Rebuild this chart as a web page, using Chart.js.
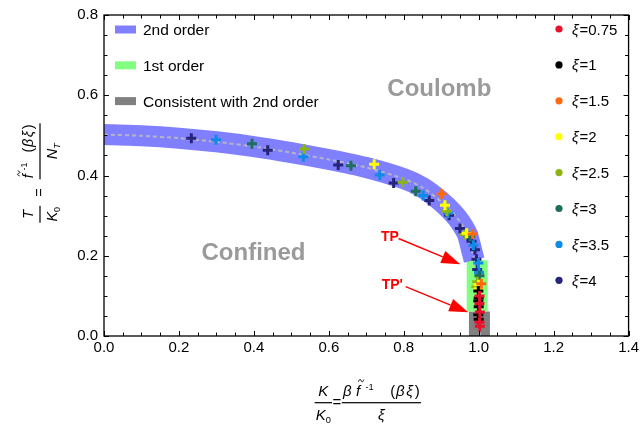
<!DOCTYPE html>
<html>
<head>
<meta charset="utf-8">
<script src="https://cdn.jsdelivr.net/npm/chart.js@4.4.1/dist/chart.umd.min.js"></script>
<style>
  html, body { margin: 0; padding: 0; background: #fff; }
</style>
</head>
<body>
<canvas id="c" width="642" height="438"></canvas>
<script>
/* axis ticks */
const xTicks = [0, 0.2, 0.4, 0.6, 0.8, 1.0, 1.2, 1.4];
const yTicks = [0, 0.2, 0.4, 0.6, 0.8];

/* fitted curve (dashed) K/K0 vs T/K0 */
const curveK = [0, 0.1, 0.2, 0.3, 0.4, 0.5, 0.6, 0.7, 0.8, 0.85, 0.9, 0.93, 0.95, 0.97, 0.98, 0.988, 0.994, 1.0, 1.002, 1.003, 1.003];
const curveT = [0.502, 0.499, 0.493, 0.484, 0.472, 0.457, 0.440, 0.420, 0.392, 0.370, 0.335, 0.308, 0.285, 0.253, 0.218, 0.189, 0.162, 0.120, 0.081, 0.023, 0.0];

/* transition regions */
const tpT = 0.189;       // TP : 2nd -> 1st order
const tpPrimeT = 0.061;  // TP': 1st order -> consistent with 2nd
const firstOrderK = 0.996;
const consistentK = 1.002;

/* legend */
const bandLabels = ['2nd order', '1st order', 'Consistent with 2nd order'];
const bandColors = ['#8080ff', '#80ff80', '#808080'];
const xiLabels = ['0.75', '1', '1.5', '2', '2.5', '3', '3.5', '4'];
const xiColors = ['#e8102a', '#000000', '#ff6a10', '#ffff00', '#8cb414', '#1e6e5e', '#0f8ae6', '#26257a'];

/* data points per xi */
const xi075K = [1.002, 1.002, 1.003, 1.002, 1.003];
const xi075T = [0.100, 0.081, 0.060, 0.034, 0.024];
const xi1K = [0.999, 1.000, 0.999, 1.000, 0.999, 1.000];
const xi1T = [0.112, 0.095, 0.087, 0.073, 0.053, 0.042];
const xi15K = [0.901, 0.984, 1.007];
const xi15T = [0.354, 0.254, 0.130];
const xi2K = [0.721, 0.910, 0.968, 1.000, 0.999];
const xi2T = [0.428, 0.326, 0.256, 0.128, 0.117];
const xi25K = [0.534, 0.797, 0.915, 0.963, 0.996, 0.994];
const xi25T = [0.466, 0.383, 0.311, 0.253, 0.135, 0.123];
const xi3K = [0.395, 0.659, 0.832, 0.977, 1.002];
const xi3T = [0.479, 0.424, 0.361, 0.248, 0.150];
const xi35K = [0.299, 0.532, 0.736, 0.852, 0.918, 0.986, 0.999, 1.001];
const xi35T = [0.489, 0.447, 0.401, 0.350, 0.306, 0.226, 0.182, 0.158];
const xi4K = [0.233, 0.437, 0.625, 0.773, 0.868, 0.921, 0.950, 0.972, 0.981, 0.990, 0.994, 0.996];
const xi4T = [0.493, 0.463, 0.426, 0.381, 0.338, 0.301, 0.268, 0.248, 0.236, 0.215, 0.191, 0.166];

/* labels inside the plot */
const regionLabels = [
  { text: 'Coulomb', k: 0.895, t: 0.597 },
  { text: 'Confined', k: 0.399, t: 0.190 }
];
const tpLabels = [
  { text: 'TP',  k: 0.739, t: 0.236, fromK: 0.786, fromT: 0.243, toK: 0.951, toT: 0.179 },
  { text: "TP'", k: 0.741, t: 0.118, fromK: 0.805, fromT: 0.123, toK: 0.972, toT: 0.059 }
];

/* helpers */
const FAM = '"Liberation Sans", Arial, sans-serif';
const zip = (xs, ys) => xs.map((x, i) => ({ x: x, y: ys[i] }));
const seriesK = [xi075K, xi1K, xi15K, xi2K, xi25K, xi3K, xi35K, xi4K];
const seriesT = [xi075T, xi1T, xi15T, xi2T, xi25T, xi3T, xi35T, xi4T];

const curvePts = zip(curveK, curveT);
const band2Pts = curvePts.filter(p => p.y >= tpT);
const band1Pts = [{ x: firstOrderK, y: tpT }, { x: firstOrderK, y: tpPrimeT }];
const bandCPts = [{ x: consistentK, y: tpPrimeT }, { x: consistentK, y: 0 }];

function fnt(r, size) {
  return (r.i ? 'italic ' : '') + (r.s ? size * 0.62 : size).toFixed(1) + 'px ' + FAM;
}
function runsWidth(ctx, runs, size) {
  let w = 0;
  runs.forEach(r => { ctx.font = fnt(r, size); w += ctx.measureText(r.t).width + (r.gap || 0) * size; });
  return w;
}
function tilde(ctx, cx, cy, w) {
  ctx.save();
  ctx.lineWidth = 1;
  ctx.beginPath();
  ctx.moveTo(cx - w / 2, cy + 1);
  ctx.bezierCurveTo(cx - w / 4, cy - 2, cx - w / 8, cy - 1.5, cx, cy);
  ctx.bezierCurveTo(cx + w / 8, cy + 1.5, cx + w / 4, cy + 2, cx + w / 2, cy - 1);
  ctx.stroke();
  ctx.restore();
}
function drawRuns(ctx, runs, x, base, size) {
  runs.forEach(r => {
    ctx.font = fnt(r, size);
    const dy = r.s === 'sup' ? -0.42 * size : r.s === 'sub' ? 0.22 * size : 0;
    ctx.fillText(r.t, x, base + dy);
    const w = ctx.measureText(r.t).width;
    if (r.tilde) tilde(ctx, x + w / 2 + size * 0.2, base - size * 1.02, size * 0.36);
    x += w + (r.gap || 0) * size;
  });
}
function fracWidth(ctx, f, size) {
  return Math.max(runsWidth(ctx, f.num, size), runsWidth(ctx, f.den, size)) + size * 0.15;
}
function drawFrac(ctx, f, x, barY, size) {
  const wn = runsWidth(ctx, f.num, size), wd = runsWidth(ctx, f.den, size);
  const w = Math.max(wn, wd) + size * 0.15;
  ctx.fillRect(x, barY - 0.6, w, 1.2);
  drawRuns(ctx, f.num, x + (w - wn) / 2, barY - size * 0.45, size);
  drawRuns(ctx, f.den, x + (w - wd) / 2, barY + size * 1.15, size);
  return w;
}
function drawEquation(ctx, cx, barY, left, right, size, pad) {
  ctx.font = size + 'px ' + FAM;
  const weq = ctx.measureText('=').width + 2 * pad;
  const w1 = fracWidth(ctx, left, size), w2 = fracWidth(ctx, right, size);
  let x = cx - (w1 + weq + w2) / 2;
  drawFrac(ctx, left, x, barY, size);
  x += w1;
  ctx.font = size + 'px ' + FAM;
  ctx.fillText('=', x + pad, barY + size * 0.3);
  x += weq;
  drawFrac(ctx, right, x, barY, size);
}
function arrow(ctx, x1, y1, x2, y2) {
  const a = Math.atan2(y2 - y1, x2 - x1), len = 19, hw = 6.5;
  const bx = x2 - len * Math.cos(a), by = y2 - len * Math.sin(a);
  ctx.beginPath();
  ctx.moveTo(x1, y1);
  ctx.lineTo(bx, by);
  ctx.stroke();
  ctx.beginPath();
  ctx.moveTo(x2, y2);
  ctx.lineTo(bx + hw * Math.sin(a), by - hw * Math.cos(a));
  ctx.lineTo(bx - hw * Math.sin(a), by + hw * Math.cos(a));
  ctx.closePath();
  ctx.fill();
}

const xTitle = {
  left: { num: [{ t: 'K', i: 1 }], den: [{ t: 'K', i: 1 }, { t: '0', s: 'sub' }] },
  right: {
    num: [{ t: 'β', i: 1, gap: 0.3 }, { t: 'f', i: 1, tilde: 1, gap: 0.35 }, { t: '-1', s: 'sup', gap: 1.1 },
          { t: '(', gap: 0.05 }, { t: 'β', i: 1, gap: 0.12 }, { t: 'ξ', i: 1, gap: 0.12 }, { t: ')' }],
    den: [{ t: 'ξ', i: 1 }]
  }
};
const yTitle = {
  left: { num: [{ t: 'T', i: 1 }], den: [{ t: 'K', i: 1 }, { t: '0', s: 'sub' }] },
  right: {
    num: [{ t: 'f', i: 1, tilde: 1, gap: 0.25 }, { t: '-1', s: 'sup', gap: 0.7 }, { t: '(', gap: 0.05 },
          { t: 'β', i: 1, gap: 0.1 }, { t: 'ξ', i: 1, gap: 0.1 }, { t: ')' }],
    den: [{ t: 'N', i: 1 }, { t: 'T', i: 1, s: 'sub' }]
  }
};

/* frame, inward ticks, legends, labels, titles */
const decor = {
  id: 'decor',
  afterDraw(chart) {
    const { ctx, chartArea: a, scales: { x, y } } = chart;
    ctx.save();
    ctx.strokeStyle = '#000';
    ctx.fillStyle = '#000';
    ctx.lineWidth = 1.3;
    ctx.strokeRect(a.left, a.top, a.right - a.left, a.bottom - a.top);

    ctx.lineWidth = 1;
    ctx.beginPath();
    for (let i = 0; i <= 28; i++) {
      const px = Math.round(x.getPixelForValue(i * 0.05)) + 0.5;
      const l = i % 4 === 0 ? 5 : 3.5;
      ctx.moveTo(px, a.bottom); ctx.lineTo(px, a.bottom - l);
      ctx.moveTo(px, a.top); ctx.lineTo(px, a.top + l);
    }
    for (let i = 0; i <= 16; i++) {
      const py = Math.round(y.getPixelForValue(i * 0.05)) + 0.5;
      const l = i % 4 === 0 ? 5 : 3.5;
      ctx.moveTo(a.left, py); ctx.lineTo(a.left + l, py);
      ctx.moveTo(a.right, py); ctx.lineTo(a.right - l, py);
    }
    ctx.stroke();

    // band legend (top left)
    ctx.textBaseline = 'alphabetic';
    bandLabels.forEach((lab, i) => {
      const cy = 29.5 + i * 35.8;
      ctx.fillStyle = bandColors[i];
      ctx.fillRect(115, cy - 4, 21, 8);
      ctx.fillStyle = '#000';
      ctx.font = '15.5px ' + FAM;
      ctx.fillText(lab, 143, cy + 5.5);
    });

    // xi legend (right)
    xiLabels.forEach((lab, i) => {
      const cy = 29 + i * 35.9;
      ctx.fillStyle = xiColors[i];
      ctx.beginPath();
      ctx.arc(559, cy, 3.6, 0, Math.PI * 2);
      ctx.fill();
      ctx.fillStyle = '#000';
      drawRuns(ctx, [{ t: 'ξ', i: 1, gap: 0.05 }, { t: '=' + lab }], 572, cy + 5.5, 15);
    });

    // region names
    ctx.fillStyle = '#9a9a9a';
    ctx.font = 'bold 24px ' + FAM;
    ctx.textAlign = 'center';
    regionLabels.forEach(r => ctx.fillText(r.text, x.getPixelForValue(r.k), y.getPixelForValue(r.t)));

    // TP markers
    ctx.textAlign = 'left';
    ctx.fillStyle = '#ff0000';
    ctx.strokeStyle = '#ff0000';
    ctx.lineWidth = 1.5;
    ctx.font = 'bold 14px ' + FAM;
    tpLabels.forEach(p => {
      ctx.fillText(p.text, x.getPixelForValue(p.k), y.getPixelForValue(p.t));
      arrow(ctx, x.getPixelForValue(p.fromK), y.getPixelForValue(p.fromT),
                 x.getPixelForValue(p.toK), y.getPixelForValue(p.toT));
    });

    // axis titles
    ctx.fillStyle = '#000';
    ctx.strokeStyle = '#000';
    drawEquation(ctx, (a.left + a.right) / 2 + 1.5, 402.7, xTitle.left, xTitle.right, 15, 0.5);
    ctx.translate(40, 173);
    ctx.rotate(-Math.PI / 2);
    drawEquation(ctx, 0, 0, yTitle.left, yTitle.right, 14.5, 9);
    ctx.restore();
  }
};

Chart.defaults.font.family = FAM;
Chart.defaults.color = '#000';

const pointSets = xiLabels.map((lab, i) => ({
  label: 'ξ=' + lab,
  data: zip(seriesK[i], seriesT[i]),
  pointStyle: 'cross',
  pointRadius: 5,
  pointBorderWidth: 3,
  borderColor: xiColors[i],
  backgroundColor: xiColors[i],
  showLine: false,
  order: 1
}));

new Chart(document.getElementById('c'), {
  type: 'scatter',
  data: {
    datasets: [
      ...pointSets,
      { label: 'fit', data: curvePts, showLine: true, pointRadius: 0, borderColor: '#b4b4c4',
        borderWidth: 2, borderDash: [4, 3], tension: 0.2, clip: 0, order: 5 },
      { label: bandLabels[0], data: band2Pts, showLine: true, pointRadius: 0, borderColor: bandColors[0],
        borderWidth: 21, borderJoinStyle: 'round', borderCapStyle: 'butt', tension: 0.2, clip: 0, order: 10 },
      { label: bandLabels[1], data: band1Pts, showLine: true, pointRadius: 0, borderColor: bandColors[1],
        borderWidth: 21, borderCapStyle: 'butt', clip: 0, order: 11 },
      { label: bandLabels[2], data: bandCPts, showLine: true, pointRadius: 0, borderColor: bandColors[2],
        borderWidth: 21, borderCapStyle: 'butt', clip: 0, order: 12 }
    ]
  },
  options: {
    responsive: false,
    animation: false,
    layout: { padding: { top: 10, right: 11, left: 0, bottom: 0 } },
    plugins: { legend: { display: false }, tooltip: { enabled: false } },
    scales: {
      x: {
        type: 'linear', min: 0, max: 1.4,
        afterFit: s => { s.height = 102; },
        afterBuildTicks: s => { s.ticks = xTicks.map(v => ({ value: v })); },
        grid: { display: false, drawTicks: false },
        border: { display: false },
        ticks: { padding: 3, font: { size: 15 }, callback: v => v.toFixed(1) }
      },
      y: {
        type: 'linear', min: 0, max: 0.8,
        afterFit: s => { s.width = 104; },
        afterBuildTicks: s => { s.ticks = yTicks.map(v => ({ value: v })); },
        grid: { display: false, drawTicks: false },
        border: { display: false },
        ticks: { padding: 6, font: { size: 15 }, callback: v => v.toFixed(1) }
      }
    }
  },
  plugins: [decor]
});
</script>
</body>
</html>
